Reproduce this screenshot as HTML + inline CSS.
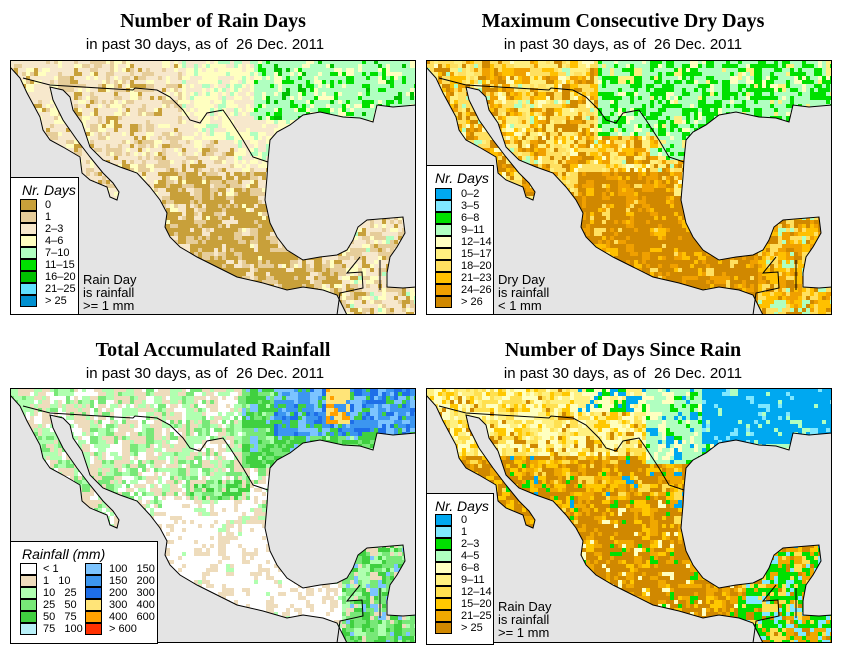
<!DOCTYPE html>
<html><head><meta charset="utf-8">
<style>
body{margin:0;background:#fff;width:846px;height:658px;overflow:hidden;position:relative;font-family:"Liberation Sans",sans-serif}
.t{position:absolute;font-family:"Liberation Serif",serif;font-weight:bold;font-size:20px;text-align:center;width:420px}
.s{position:absolute;font-size:15px;text-align:center;width:420px}
svg.map{position:absolute}
.leg{position:absolute;background:#fff;border:1px solid #000;box-sizing:border-box;font-size:11px}
.leg .ti{position:absolute;font-style:italic;font-size:14px}
.sw{position:absolute;width:17px;height:12px;border:1px solid #000;box-sizing:border-box}
.lb{position:absolute;font-size:11px;line-height:12px}
.note{position:absolute;font-size:13px;line-height:13px}
</style></head><body>
<div class="t" style="left:3px;top:10px">Number of Rain Days</div>
<div class="s" style="left:-5px;top:36px">in past 30 days, as of&nbsp; 26 Dec. 2011</div>
<div class="t" style="left:413px;top:10px">Maximum Consecutive Dry Days</div>
<div class="s" style="left:413px;top:36px">in past 30 days, as of&nbsp; 26 Dec. 2011</div>
<div class="t" style="left:3px;top:339px">Total Accumulated Rainfall</div>
<div class="s" style="left:-5px;top:365px">in past 30 days, as of&nbsp; 26 Dec. 2011</div>
<div class="t" style="left:413px;top:339px">Number of Days Since Rain</div>
<div class="s" style="left:413px;top:365px">in past 30 days, as of&nbsp; 26 Dec. 2011</div>

<svg class="map" id="m0" style="left:10px;top:60px" width="406" height="255" viewBox="0 0 406 255"></svg>
<svg class="map" id="m1" style="left:426px;top:60px" width="406" height="255" viewBox="0 0 406 255"></svg>
<svg class="map" id="m2" style="left:10px;top:388px" width="406" height="255" viewBox="0 0 406 255"></svg>
<svg class="map" id="m3" style="left:426px;top:388px" width="406" height="255" viewBox="0 0 406 255"></svg>

<div class="leg" style="left:10px;top:177px;width:69px;height:138px">
<div class="ti" style="left:11px;top:4px">Nr. Days</div>
</div>
<div class="note" style="left:83px;top:273px">Rain Day<br>is rainfall<br>&gt;= 1 mm</div>

<div class="leg" style="left:426px;top:165px;width:68px;height:150px">
<div class="ti" style="left:8px;top:4px">Nr. Days</div>
</div>
<div class="note" style="left:498px;top:273px">Dry Day<br>is rainfall<br>&lt; 1 mm</div>

<div class="leg" style="left:10px;top:541px;width:148px;height:103px">
<div class="ti" style="left:11px;top:4px">Rainfall (mm)</div>
</div>

<div class="leg" style="left:426px;top:493px;width:68px;height:152px">
<div class="ti" style="left:8px;top:4px">Nr. Days</div>
</div>
<div class="note" style="left:498px;top:600px">Rain Day<br>is rainfall<br>&gt;= 1 mm</div>

<script>
const legRainLabels=["0","1","2–3","4–6","7–10","11–15","16–20","21–25","> 25"];
const legRainColors=["#c8a03a","#e6cd9a","#f7e8cc","#ffffc0","#b0ffc0","#00e000","#00c000","#60e0ff","#0090d0"];
const legDryLabels=["0–2","3–5","6–8","9–11","12–14","15–17","18–20","21–23","24–26","> 26"];
const legDryColors=["#00a8f0","#80e8ff","#00e000","#b0ffc0","#ffffc0","#fff080","#ffe060","#ffc000","#f0a000","#d08800"];
const legFallLabels=["< 1","1   10","10   25","25   50","50   75","75   100","100   150","150   200","200   300","300   400","400   600","> 600"];
const legFallColors=["#ffffff","#eedcbc","#b0ffb0","#78e878","#40d040","#b8f0f8","#7cc4ff","#3c96f0","#1e6ee8","#ffe478","#ffa000","#ff3000"];
const legSinceLabels=["0","1","2–3","4–5","6–8","9–11","12–14","15–20","21–25","> 25"];
const legSinceColors=["#00a8f0","#80e8ff","#00e000","#b0ffc0","#ffffc0","#fff080","#ffe050","#ffc800","#f0a800","#d08800"];

function addLeg(leg,labels,colors,x0,y0,lx){
  for(let k=0;k<labels.length;k++){
    const s=document.createElement('div');s.className='sw';
    
    
    s.style.left=x0+'px';s.style.top=(y0+k*12)+'px';s.style.background=colors[k];leg.appendChild(s);
    const l=document.createElement('div');l.className='lb';
    
    
    l.style.left=lx+'px';l.style.top=(y0+k*12)+'px';l.style.whiteSpace='pre';l.textContent=labels[k];leg.appendChild(l);
  }
}
const legs=document.querySelectorAll('.leg');
addLeg(legs[0],legRainLabels,legRainColors,9,21,34);
addLeg(legs[1],legDryLabels,legDryColors,8,22,34);
addLeg(legs[2],legFallLabels.slice(0,6),legFallColors.slice(0,6),9,21,32);
addLeg(legs[2],legFallLabels.slice(6),legFallColors.slice(6),74,21,98);
addLeg(legs[3],legSinceLabels,legSinceColors,8,20,34);

const pacific="0,7 10,18 17,33 30,57 33,70 40,80 53,87 70,97 72,113 80,120 97,127 100,137 107,140 109,132 103,123 93,113 80,97 67,80 53,60 43,40 40,27 53,30 60,37 63,50 72,63 80,87 93,100 110,107 127,113 140,127 150,140 157,153 155,167 160,177 170,187 187,197 207,207 227,217 253,223 277,230 293,227 313,230 327,235 333,247 337,255 0,255";
const gulf="406,45 383,47 367,45 363,62 350,58 333,57 310,52 293,55 280,65 267,72 260,80 258,100 257,117 255,140 260,163 267,177 277,190 293,200 310,197 327,195 337,190 343,180 348,167 357,160 393,157 395,173 387,187 380,197 377,213 377,227 393,228 406,227";
const border1="13,18 40,25 123,30 125,28 147,30 160,37 173,50 180,60 190,63 197,53 213,50 220,60 233,80 243,97 258,102";
const border2="350,197 337,213 352,212 353,228 330,233 327,255";
const border3="370,200 370,230";

function h(i,j,p){let n=(i*374761393+j*668265263+p*982451653)|0;n=(n^(n>>>13))*1274126177|0;n=n^(n>>>16);return (n>>>0)/4294967296;}
function south(x,y){return (y>135&&x>140&&x<340)||(y>110&&x>150&&x<250);}
function pick(r,arr){for(const [t,c] of arr){if(r<t)return c;}return arr[arr.length-1][1];}
function col(p,x,y,r){
  const yuc=x>330&&y>150;
  if(p===0){
    if(y<62&&x>245)return pick(r,[[.15,'#00e000'],[.2,'#00c000'],[.85,'#b0ffc0'],[1,'#ffffc0']]);
    if((y<80&&x>170)||(x>225&&y<110))return pick(r,[[.5,'#ffffc0'],[.85,'#f7e8cc'],[1,'#b0ffc0']]);
    if(yuc)return pick(r,[[.45,'#f7e8cc'],[.7,'#e6cd9a'],[.85,'#ffffc0'],[.95,'#c8a03a'],[1,'#b0ffc0']]);
    if(south(x,y))return pick(r,[[.6,'#c8a03a'],[.85,'#e6cd9a'],[.97,'#f7e8cc'],[1,'#ffffc0']]);
    return pick(r,[[.5,'#f7e8cc'],[.75,'#e6cd9a'],[.86,'#c8a03a'],[1,'#ffffc0']]);
  }
  if(p===1){
    if((x>170&&y<75)||(x>230&&y<100))return pick(r,[[.4,'#00e000'],[.85,'#b0ffc0'],[.95,'#ffffc0'],[1,'#fff080']]);
    if(yuc)return pick(r,[[.3,'#ffc000'],[.55,'#ffe060'],[.75,'#f0a000'],[.9,'#d08800'],[1,'#b0ffc0']]);
    if(south(x,y))return pick(r,[[.65,'#d08800'],[.85,'#f0a000'],[.95,'#ffc000'],[1,'#ffe060']]);
    return pick(r,[[.2,'#d08800'],[.35,'#f0a000'],[.5,'#ffc000'],[.75,'#ffe060'],[.9,'#fff080'],[.96,'#ffffc0'],[1,'#b0ffc0']]);
  }
  if(p===2){
    if(x>315&&x<342&&y<35)return pick(r,[[.5,'#ffe478'],[.8,'#ffa000'],[1,'#3c96f0']]);
    if(x>265&&y<50)return pick(r,[[.35,'#3c96f0'],[.6,'#1e6ee8'],[.85,'#7cc4ff'],[1,'#40d040']]);
    if(x>230&&y<80)return pick(r,[[.4,'#40d040'],[.75,'#78e878'],[.9,'#b0ffb0'],[1,'#7cc4ff']]);
    if(yuc)return pick(r,[[.35,'#78e878'],[.6,'#40d040'],[.8,'#b0ffb0'],[.9,'#7cc4ff'],[1,'#eedcbc']]);
    if(south(x,y))return pick(r,[[.7,'#ffffff'],[.97,'#eedcbc'],[1,'#b0ffb0']]);
    if(x>180&&x<240&&y>90&&y<150)return pick(r,[[.4,'#b0ffb0'],[.65,'#78e878'],[.8,'#40d040'],[1,'#eedcbc']]);
    return pick(r,[[.35,'#eedcbc'],[.65,'#b0ffb0'],[.85,'#ffffff'],[1,'#78e878']]);
  }
  if(x>275&&y<55)return pick(r,[[.8,'#00a8f0'],[.9,'#b0ffc0'],[1,'#80e8ff']]);
  if(x>220&&y<75)return pick(r,[[.6,'#b0ffc0'],[.75,'#00a8f0'],[.85,'#00e000'],[1,'#ffffc0']]);
  if(y<25&&x>150)return pick(r,[[.4,'#ffffc0'],[.6,'#00a8f0'],[.8,'#fff080'],[1,'#00e000']]);
  if(x>310&&y>165)return pick(r,[[.45,'#00e000'],[.6,'#80e8ff'],[.75,'#f0a800'],[.9,'#ffe050'],[1,'#d08800']]);
  if(y<70)return pick(r,[[.3,'#ffffc0'],[.55,'#fff080'],[.75,'#ffe050'],[.9,'#ffc800'],[1,'#d08800']]);
  if(south(x,y))return pick(r,[[.6,'#d08800'],[.8,'#f0a800'],[.9,'#ffc800'],[.96,'#ffffc0'],[1,'#00e000']]);
  return pick(r,[[.4,'#d08800'],[.6,'#f0a800'],[.8,'#ffc800'],[.9,'#ffe050'],[.95,'#00e000'],[1,'#00a8f0']]);
}
for(let p=0;p<4;p++){
  const svg=document.getElementById('m'+p);
  const C=4;let html='';
  for(let j=0;j<64;j++)for(let i=0;i<102;i++){
    const r=h(i,j,p+10)<0.55?h(i>>1,j>>1,p):h(i,j,p+20);
    html+=`<rect x="${i*C}" y="${j*C}" width="${C}" height="${C}" fill="${col(p,i*C+2,j*C+2,r)}"/>`;
  }
  html+=`<polygon points="${pacific}" fill="#e4e4e4" stroke="#000" stroke-width="1"/>`;
  html+=`<polygon points="${gulf}" fill="#e4e4e4" stroke="#000" stroke-width="1"/>`;
  html+=`<polyline points="${border1}" fill="none" stroke="#000" stroke-width="1"/>`;
  html+=`<polyline points="${border2}" fill="none" stroke="#000" stroke-width="1"/>`;
  html+=`<polyline points="${border3}" fill="none" stroke="#000" stroke-width="1"/>`;
  html+=`<rect x="0.5" y="0.5" width="405" height="254" fill="none" stroke="#000" stroke-width="1"/>`;
  svg.innerHTML=html;
}
</script>
</body></html>
